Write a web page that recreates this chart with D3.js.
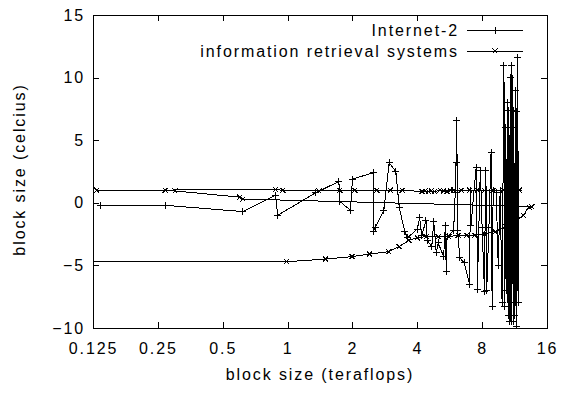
<!DOCTYPE html>
<html>
<head>
<meta charset="utf-8">
<title>block size</title>
<script src="https://d3js.org/d3.v7.min.js"></script>
<style>
  body { margin: 0; background: #fff; }
  svg { display: block; }
  text { font-family: "Liberation Sans", Arial, sans-serif; font-size: 16px; letter-spacing: 1.9px; fill: #000; }
</style>
</head>
<body>
<svg width="564" height="394"></svg>
<script>
// x ticks (teraflops, log2) and y ticks (celcius)
var xTicks = [0.125, 0.25, 0.5, 1, 2, 4, 8, 16];
var xTickLabels = ["0.125", "0.25", "0.5", "1", "2", "4", "8", "16"];
var yTicks = [-10, -5, 0, 5, 10, 15];

// Internet-2 (+ points), in file order
var netX = [0.135, 0.27, 0.62, 0.88, 0.9, 1.35, 1.73, 1.75, 1.96, 2.0, 2.5, 2.5, 2.55, 2.8, 2.96, 3.18, 3.3, 3.5, 3.6,
  4.0, 4.1, 4.2, 4.39, 4.45, 4.67, 4.77, 4.9, 5.0, 5.3, 5.4, 5.45, 5.5, 5.9, 6.0, 6.05, 6.1, 6.15, 6.3, 6.6,
  7.0, 7.05, 7.1, 7.5, 7.55, 7.6, 7.8, 7.85, 8.0, 8.2, 8.3, 8.35, 8.4, 8.6, 8.8, 8.9, 9.0, 9.3, 9.5, 9.7, 9.9,
  10.1, 10.2, 10.3, 10.35, 10.4, 10.5, 10.55, 10.6, 10.7, 10.8, 10.85, 10.9, 11.0, 11.05, 11.1, 11.15, 11.2,
  11.3, 11.4, 11.45, 11.5, 11.6, 11.7, 11.8, 11.85];
var netY = [-0.2, -0.2, -0.7, 0.6, -1.0, 0.8, 1.7, 0.1, -0.6, 1.9, 2.4, -2.3, -2.0, -0.6, 3.2, 2.5, -0.4, -2.3, -2.8,
  -2.1, -1.2, -2.6, -1.4, -3.0, -3.5, -1.5, -4.0, -3.2, -4.3, -1.8, -5.5, -2.7, -2.2, 0.8, 3.2, 6.6, -2.2, -4.4, -4.8,
  -6.5, 1.0, -1.8, 2.8, 1.0, -6.9, 1.0, 2.6, -2.0, -7.1, 2.6, 1.0, -7.0, -2.0, 4.0, -8.3, 1.0, 0.8, -5.0, 1.0, -8.0,
  11.0, -8.3, 6.0, -7.0, 1.0, 8.0, -9.0, 7.4, -9.5, 10.0, -9.0, -9.5, 11.0, 6.0, -3.0, -9.5, 7.4,
  -9.0, 9.0, -8.0, 7.3, -9.9, 11.6, -8.0, 1.0];

// information retrieval systems (x points), in file order
var irsX = [0.06, 0.99, 1.5, 1.99, 2.4, 2.95, 3.3, 3.65, 4.0, 4.4, 5.0, 5.6, 6.2, 6.8, 7.4, 8.2, 9.2, 10.3, 11.3,
  12.4, 13.2, 13.6, 0.62, 0.6, 0.3, 0.27, 0.13, 0.88, 0.95, 1.4, 1.75, 2.05, 2.6, 3.0, 3.4, 4.2, 4.35, 4.5,
  4.65, 4.8, 5.1, 5.3, 5.5, 5.7, 5.9, 6.4, 7.0, 7.6, 8.2, 9.0, 10.0, 11.0, 11.9];
var irsY = [-4.7, -4.7, -4.5, -4.3, -4.1, -3.9, -3.5, -3.0, -2.8, -2.7, -2.7, -2.7, -2.6, -2.6, -2.6, -2.5, -2.3, -1.9, -1.5,
  -1.0, -0.35, -0.3, 0.3, 0.45, 0.95, 1.0, 1.0, 1.05, 1.0, 0.95, 1.0, 1.0, 1.0, 1.0, 1.0, 0.9, 0.95, 0.9,
  0.95, 0.9, 1.0, 0.95, 0.9, 1.0, 1.0, 1.0, 1.0, 1.0, 1.0, 1.0, 1.0, 1.0, 1.0];

var seriesNames = ["Internet-2", "information retrieval systems"];

var svg = d3.select("svg"),
  margin = {top: 15, right: 17, bottom: 66, left: 93},
  width = +svg.attr("width") - margin.left - margin.right,
  height = +svg.attr("height") - margin.top - margin.bottom,
  g = svg.append("g").attr("transform", "translate(" + margin.left + "," + margin.top + ")");

var x = d3.scaleLog().base(2).domain([0.125, 16]).range([0, width]);
var y = d3.scaleLinear().domain([-10, 15]).range([height, 0]);

var plus = "M-3.5,0H3.5M0,-3.5V3.5",
  cross = "M-2.5,-2.5L2.5,2.5M-2.5,2.5L2.5,-2.5";

// axes, ticks pointing inward on all four sides
g.append("g")
  .attr("transform", "translate(0," + height + ")")
  .call(d3.axisBottom(x).tickValues(xTicks).tickSize(-6).tickPadding(15)
    .tickFormat(function(d, i) { return xTickLabels[i]; }));
g.append("g")
  .call(d3.axisTop(x).tickValues(xTicks).tickSize(-6).tickFormat(""));
g.append("g")
  .call(d3.axisLeft(y).tickValues(yTicks).tickSize(-6).tickPadding(8));
g.append("g")
  .attr("transform", "translate(" + width + ",0)")
  .call(d3.axisRight(y).tickValues(yTicks).tickSize(-6).tickFormat(""));

g.selectAll(".domain").remove();
g.selectAll(".tick line").attr("stroke", "#000").attr("shape-rendering", "crispEdges");
g.selectAll(".tick text").attr("font-size", null).attr("font-family", null);

g.append("rect")
  .attr("x", 0).attr("y", 0)
  .attr("width", width).attr("height", height)
  .attr("fill", "none").attr("stroke", "#000")
  .attr("shape-rendering", "crispEdges");

svg.append("text")
  .attr("x", margin.left + width / 2).attr("y", 380)
  .attr("text-anchor", "middle")
  .text("block size (teraflops)");

svg.append("text")
  .attr("transform", "translate(19," + (margin.top + height / 2 - 2) + ") rotate(-90)")
  .attr("text-anchor", "middle")
  .attr("dy", "0.35em")
  .text("block size (celcius)");

// data
g.append("clipPath").attr("id", "plotclip")
  .append("rect").attr("width", width).attr("height", height);

var plot = g.append("g").attr("clip-path", "url(#plotclip)");

var line = d3.line()
  .x(function(d) { return x(d[0]); })
  .y(function(d) { return y(d[1]); });

var series = [
  {pts: d3.zip(netX, netY), marker: plus},
  {pts: d3.zip(irsX, irsY), marker: cross}
];

series.forEach(function(s) {
  plot.append("path")
    .datum(s.pts)
    .attr("d", line)
    .attr("fill", "none")
    .attr("stroke", "#000")
    .attr("stroke-width", 1)
    .attr("shape-rendering", "crispEdges");

  plot.selectAll(null)
    .data(s.pts)
    .enter().append("path")
      .attr("transform", function(d) { return "translate(" + x(d[0]) + "," + y(d[1]) + ")"; })
      .attr("d", s.marker)
      .attr("stroke", "#000")
      .attr("stroke-width", 1)
      .attr("shape-rendering", "crispEdges");
});

// legend
var legend = g.append("g")
  .selectAll("g")
  .data(seriesNames)
  .enter().append("g")
    .attr("transform", function(d, i) { return "translate(0," + (15 + i * 21) + ")"; });

legend.append("text")
  .attr("x", 366)
  .attr("dy", "0.35em")
  .attr("text-anchor", "end")
  .text(function(d) { return d; });

legend.append("line")
  .attr("x1", 374).attr("x2", 430)
  .attr("stroke", "#000")
  .attr("shape-rendering", "crispEdges");

legend.append("path")
  .attr("transform", "translate(402,0)")
  .attr("d", function(d, i) { return series[i].marker; })
  .attr("stroke", "#000")
  .attr("shape-rendering", "crispEdges");
</script>
</body>
</html>
